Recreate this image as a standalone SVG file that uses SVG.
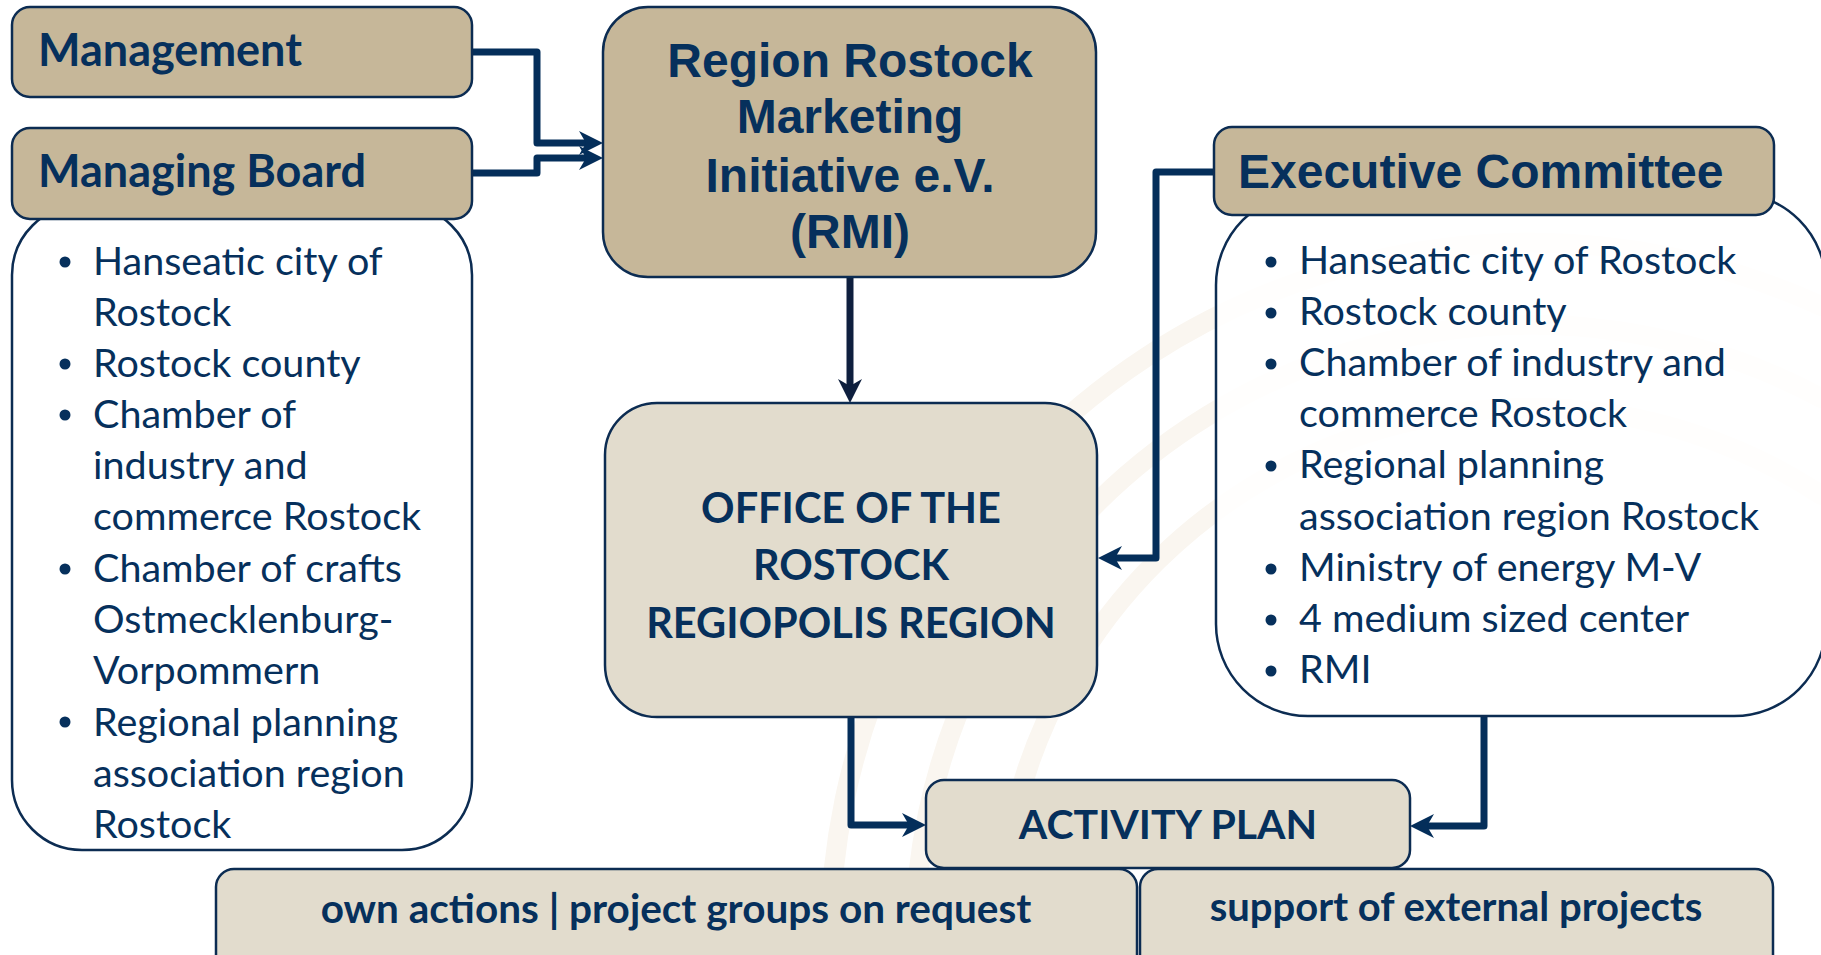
<svg xmlns="http://www.w3.org/2000/svg" width="1821" height="955" viewBox="0 0 1821 955">
  <defs>
    <style>
      .tan { fill: #c6b799; stroke: #0c2c52; stroke-width: 2.5; }
      .light { fill: #e2dccd; stroke: #0c2c52; stroke-width: 2.5; }
      .list { fill: #ffffff; stroke: #0c2c52; stroke-width: 2.5; }
      .head { font-family: Lato, "Open Sans", sans-serif; font-weight: 700; fill: #06305c; }
      .arial { font-family: "Liberation Sans", Arial, sans-serif; font-weight: 700; fill: #06305c; }
      .item { font-family: Lato, "Open Sans", sans-serif; font-weight: 400; font-size: 39.5px; fill: #06305c; }
      .dot { fill: #06305c; }
      .conn { fill: none; stroke: #042e5a; stroke-width: 7; stroke-linejoin: round; }
      .swoosh { fill: none; stroke: #faf6f0; stroke-width: 20; stroke-linecap: round; }
    </style>
    <marker id="arrow" markerUnits="userSpaceOnUse" markerWidth="26" markerHeight="26" refX="10" refY="12" orient="auto">
      <path d="M0,0 L24,12 L0,24 L7,12 Z" fill="#042e5a"/>
    </marker>
    <marker id="arrowDark" markerUnits="userSpaceOnUse" markerWidth="26" markerHeight="26" refX="10" refY="12" orient="auto">
      <path d="M0,0 L24,12 L0,24 L7,12 Z" fill="#0e1f3e"/>
    </marker>
  </defs>

  <rect width="1821" height="955" fill="#ffffff"/>

  <!-- faint background logo arcs -->
  <g id="backdrop">
    <path class="swoosh" d="M830,955 A700,700 0 0 1 1821,306"/>
    <path class="swoosh" d="M915,955 A615,615 0 0 1 1821,398"/>
    <path class="swoosh" d="M1000,955 A530,530 0 0 1 1821,495"/>
  </g>

  <!-- connectors -->
  <g id="connectors">
    <path class="conn" d="M472,52 H537 V143 H589" marker-end="url(#arrow)"/>
    <path class="conn" d="M472,173 H537 V158 H589" marker-end="url(#arrow)"/>
    <path class="conn" d="M850,277 V389" style="stroke:#0e1f3e" marker-end="url(#arrowDark)"/>
    <path class="conn" d="M1214,172 H1156 V558 H1112" marker-end="url(#arrow)"/>
    <path class="conn" d="M851,717 V825 H912" marker-end="url(#arrow)"/>
    <path class="conn" d="M1484,716 V826 H1424" marker-end="url(#arrow)"/>
  </g>

  <!-- Managing Board members -->
  <g id="board-members">
    <rect class="list" x="12" y="205" width="460" height="645" rx="70" ry="70"/>
    <g class="dot">
      <circle cx="65" cy="262" r="5.5"/>
      <circle cx="65" cy="364" r="5.5"/>
      <circle cx="65" cy="415" r="5.5"/>
      <circle cx="65" cy="569" r="5.5"/>
      <circle cx="65" cy="722" r="5.5"/>
    </g>
    <text class="item" x="93" y="275">Hanseatic city of</text>
    <text class="item" x="93" y="326">Rostock</text>
    <text class="item" x="93" y="377">Rostock county</text>
    <text class="item" x="93" y="428">Chamber of</text>
    <text class="item" x="93" y="479">industry and</text>
    <text class="item" x="93" y="530">commerce Rostock</text>
    <text class="item" x="93" y="582">Chamber of crafts</text>
    <text class="item" x="93" y="633">Ostmecklenburg-</text>
    <text class="item" x="93" y="684">Vorpommern</text>
    <text class="item" x="93" y="736">Regional planning</text>
    <text class="item" x="93" y="787">association region</text>
    <text class="item" x="93" y="838">Rostock</text>
  </g>

  <g id="management">
    <rect class="tan" x="12" y="7" width="460" height="90" rx="18" ry="18"/>
    <text class="head" x="38" y="66" font-size="45">Management</text>
  </g>

  <g id="managing-board">
    <rect class="tan" x="12" y="128" width="460" height="91" rx="18" ry="18"/>
    <text class="head" x="38" y="187" font-size="45">Managing Board</text>
  </g>

  <g id="rmi">
    <rect class="tan" x="603" y="7" width="493" height="270" rx="45" ry="45"/>
    <g class="arial" font-size="48" text-anchor="middle">
      <text x="850" y="77">Region Rostock</text>
      <text x="850" y="133">Marketing</text>
      <text x="850" y="192">Initiative e.V.</text>
      <text x="850" y="248">(RMI)</text>
    </g>
  </g>

  <g id="office">
    <rect class="light" x="605" y="403" width="492" height="314" rx="52" ry="52"/>
    <g class="head" font-size="41.5" text-anchor="middle">
      <text x="851" y="523">OFFICE OF THE</text>
      <text x="851" y="580">ROSTOCK</text>
      <text x="851" y="638">REGIOPOLIS REGION</text>
    </g>
  </g>

  <!-- Executive Committee members -->
  <g id="committee-members">
    <rect class="list" x="1216" y="193" width="610" height="523" rx="92" ry="92" fill-opacity="0.85"/>
    <g class="dot">
      <circle cx="1271" cy="262" r="5.5"/>
      <circle cx="1271" cy="313" r="5.5"/>
      <circle cx="1271" cy="364" r="5.5"/>
      <circle cx="1271" cy="466" r="5.5"/>
      <circle cx="1271" cy="569" r="5.5"/>
      <circle cx="1271" cy="620" r="5.5"/>
      <circle cx="1271" cy="671" r="5.5"/>
    </g>
    <text class="item" x="1299" y="274">Hanseatic city of Rostock</text>
    <text class="item" x="1299" y="325">Rostock county</text>
    <text class="item" x="1299" y="376">Chamber of industry and</text>
    <text class="item" x="1299" y="427">commerce Rostock</text>
    <text class="item" x="1299" y="478">Regional planning</text>
    <text class="item" x="1299" y="530">association region Rostock</text>
    <text class="item" x="1299" y="581">Ministry of energy M-V</text>
    <text class="item" x="1299" y="632">4 medium sized center</text>
    <text class="item" x="1299" y="683">RMI</text>
  </g>

  <g id="executive-committee">
    <rect class="tan" x="1214" y="127" width="560" height="88" rx="18" ry="18"/>
    <text class="arial" x="1238" y="188" font-size="48">Executive Committee</text>
  </g>

  <g id="activity-plan">
    <rect class="light" x="926" y="780" width="484" height="88" rx="18" ry="18"/>
    <text class="head" x="1168" y="839" font-size="41" text-anchor="middle">ACTIVITY PLAN</text>
  </g>

  <g id="own-actions">
    <rect class="light" x="216" y="869" width="921" height="110" rx="18" ry="18"/>
    <text class="head" x="676" y="923" font-size="40.5" text-anchor="middle">own actions | project groups on request</text>
  </g>

  <g id="external-projects">
    <rect class="light" x="1140" y="869" width="633" height="110" rx="18" ry="18"/>
    <text class="head" x="1456" y="921" font-size="40" text-anchor="middle">support of external projects</text>
  </g>
</svg>
